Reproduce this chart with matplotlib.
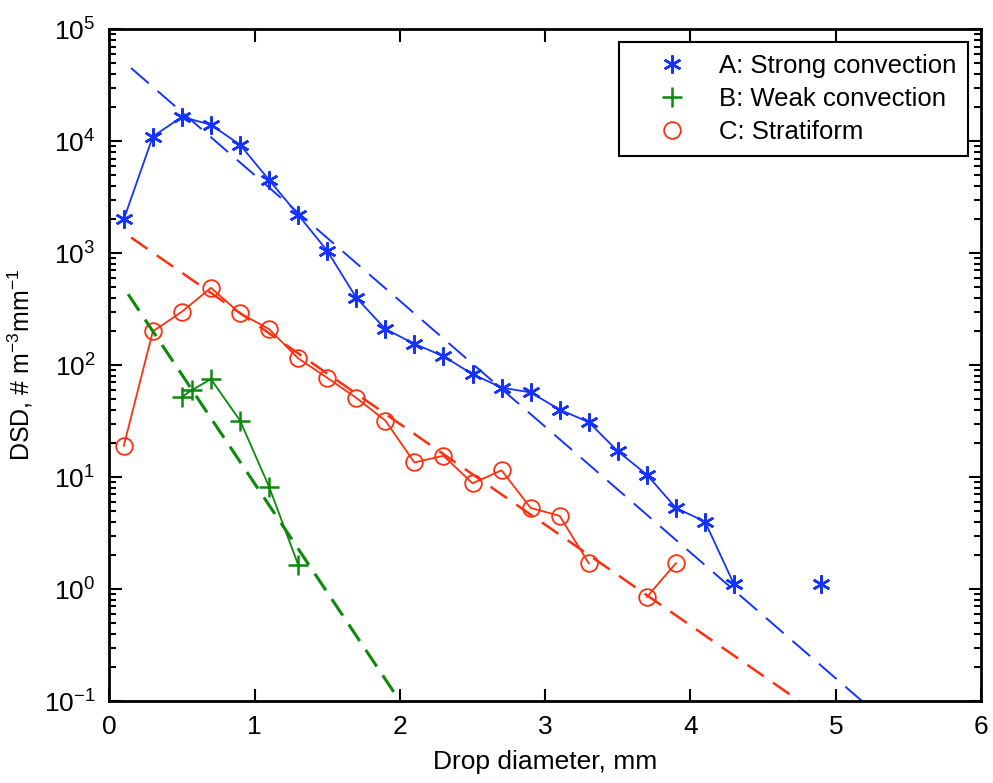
import numpy as np
import matplotlib
matplotlib.use("Agg")
import matplotlib.pyplot as plt

plt.rcParams["font.family"] = ["Liberation Sans", "DejaVu Sans"]
plt.rcParams["mathtext.fontset"] = "custom"
plt.rcParams["mathtext.rm"] = "Liberation Sans"
plt.rcParams["mathtext.it"] = "Liberation Sans:italic"

# --- data ------------------------------------------------------------------
# A: strong convection (gaps = NaN)
diam_a = [0.1, 0.3, 0.5, 0.7, 0.9, 1.1, 1.3, 1.5, 1.7, 1.9, 2.1, 2.3, 2.5,
          2.7, 2.9, 3.1, 3.3, 3.5, 3.7, 3.9, 4.1, 4.3, 4.5, 4.7, 4.9]
dsd_a = [2000, 11000, 16500, 14000, 9300, 4500, 2200, 1050, 400, 210, 155,
         120, 83, 63, 57, 40, 31, 17, 10.5, 5.3, 4.0, 1.1, np.nan, np.nan, 1.1]

# B: weak convection
diam_b = [0.5, 0.57, 0.7, 0.9, 1.1, 1.3]
dsd_b = [52, 60, 75, 32, 8.2, 1.65]

# C: stratiform
diam_c = [0.1, 0.3, 0.5, 0.7, 0.9, 1.1, 1.3, 1.5, 1.7, 1.9, 2.1, 2.3, 2.5,
          2.7, 2.9, 3.1, 3.3, 3.5, 3.7, 3.9]
dsd_c = [19, 200, 300, 490, 290, 210, 115, 77, 51, 32, 13.5, 15.5, 8.8,
         11.5, 5.3, 4.5, 1.7, np.nan, 0.85, 1.7]

# exponential fits (end points of the dashed lines)
fit_a_x = [0.15, 5.18]
fit_a_y = [45000, 0.1]
fit_b_x = [0.13, 2.0]
fit_b_y = [430, 0.1]
fit_c_x = [0.15, 4.75]
fit_c_y = [1380, 0.1]

BLUE = "#1533ff"
GREEN = "#0a8a0a"
RED = "#ff3010"

fig = plt.figure(figsize=(9.93, 7.83), dpi=100)
ax = fig.add_axes([0.11, 0.1047, 0.878, 0.858])

# solid lines with markers
ax.plot(diam_a, dsd_a, color=BLUE, lw=1.3, marker=(6, 2, 0), ms=13,
        mew=1.8, label="A: Strong convection")
ax.plot(diam_b, dsd_b, color=GREEN, lw=1.3, marker="+", ms=14,
        mew=1.8, label="B: Weak convection")
ax.plot(diam_c, dsd_c, color=RED, lw=1.3, marker="o", ms=12, mfc="none",
        mew=1.3, label="C: Stratiform")

# fitted exponentials
ax.plot(fit_a_x, fit_a_y, color=BLUE, lw=1.4, ls=(0, (12, 6)))
ax.plot(fit_b_x, fit_b_y, color=GREEN, lw=2.2, ls=(0, (6.5, 3.5)))
ax.plot(fit_c_x, fit_c_y, color=RED, lw=1.8, ls=(0, (8, 4.5)))

ax.set_yscale("log")
ax.set_xlim(0, 6)
ax.set_ylim(1e-1, 1e5)
ax.set_xticks(range(7))
ax.set_xlabel("Drop diameter, mm", fontsize=19, labelpad=8)
ax.set_ylabel("DSD, # m$^{-3}$mm$^{-1}$", fontsize=18, labelpad=6)

ax.tick_params(which="both", direction="in", top=True, right=True,
               labelsize=19, width=1.5)
ax.tick_params(which="major", length=9, pad=10)
ax.tick_params(which="minor", length=5)
for sp in ax.spines.values():
    sp.set_linewidth(2)

leg = ax.legend(loc="upper right", fontsize=18.5, handlelength=3.27,
                handletextpad=0.2, borderpad=0.45, labelspacing=0.36,
                fancybox=False, edgecolor="black", framealpha=1,
                borderaxespad=0.5)
leg.get_frame().set_linewidth(1.5)
for h in leg.legend_handles:
    h.set_linestyle("none")

fig.savefig("out.png", dpi=100)
